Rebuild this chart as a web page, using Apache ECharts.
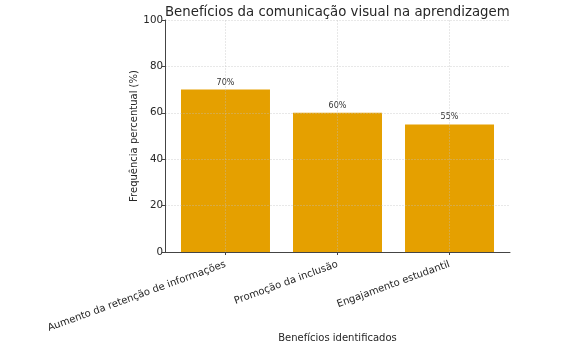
<!DOCTYPE html>
<html>
<head>
<meta charset="utf-8">
<script src="https://cdn.jsdelivr.net/npm/echarts@6/dist/echarts.min.js"></script>
<style>
html,body{margin:0;padding:0;background:#fff;}
#chart{width:572px;height:348px;}
</style>
</head>
<body>
<div id="chart"></div>
<script>
const titleText = 'Benefícios da comunicação visual na aprendizagem';
const categories = ['Aumento da retenção de informações', 'Promoção da inclusão', 'Engajamento estudantil'];
const values = [70, 60, 55];
const yTicks = [0, 20, 40, 60, 80, 100];
const xAxisName = 'Benefícios identificados';
const yAxisName = 'Frequência percentual (%)';

const positions = categories.map((c, i) => i);
const chart = echarts.init(document.getElementById('chart'), null, {renderer: 'canvas'});
const font = 'DejaVu Sans';
const gridStyle = {color: 'rgba(190,190,190,0.45)', type: [2, 1], width: 0.8};
chart.setOption({
  animation: false,
  backgroundColor: '#ffffff',
  title: {
    text: titleText,
    left: 160,
    top: 1,
    textStyle: {fontFamily: font, fontSize: 13.3, fontWeight: 'normal', color: '#262626'}
  },
  grid: {left: 165, right: 62, top: 20, bottom: 92, containLabel: false},
  xAxis: {
    type: 'value',
    min: -0.54,
    max: 2.54,
    z: 5,
    name: xAxisName,
    nameLocation: 'middle',
    nameGap: 81,
    nameMoveOverlap: false,
    nameTextStyle: {fontFamily: font, fontSize: 10, color: '#262626'},
    axisLine: {show: true, onZero: false, lineStyle: {color: '#444', width: 1}},
    axisTick: {show: true, customValues: positions, length: 3, lineStyle: {color: '#444'}},
    axisLabel: {
      customValues: positions,
      rotate: 20,
      margin: 12,
      fontFamily: font, fontSize: 10, color: '#262626',
      formatter: v => categories[Math.round(v)]
    },
    splitLine: {show: true, lineStyle: gridStyle}
  },
  yAxis: {
    type: 'value',
    min: 0, max: 100, interval: 20,
    z: 5,
    name: yAxisName,
    nameLocation: 'middle',
    nameGap: 26,
    nameMoveOverlap: false,
    nameTextStyle: {fontFamily: font, fontSize: 10, color: '#262626'},
    axisLine: {show: true, onZero: false, lineStyle: {color: '#444', width: 1}},
    axisTick: {show: true, length: 3, lineStyle: {color: '#444'}},
    axisLabel: {margin: 2, fontFamily: font, fontSize: 10.3, color: '#262626',
      customValues: yTicks},
    splitLine: {show: true, lineStyle: gridStyle}
  },
  series: [{
    type: 'bar',
    data: positions.map((p, i) => [p, values[i]]),
    barWidth: 89,
    itemStyle: {color: '#E5A000'},
    label: {
      show: true, position: 'top', distance: 3,
      fontFamily: font, fontSize: 8, color: '#333',
      formatter: p => p.value[1] + '%'
    }
  }]
});
</script>
</body>
</html>
